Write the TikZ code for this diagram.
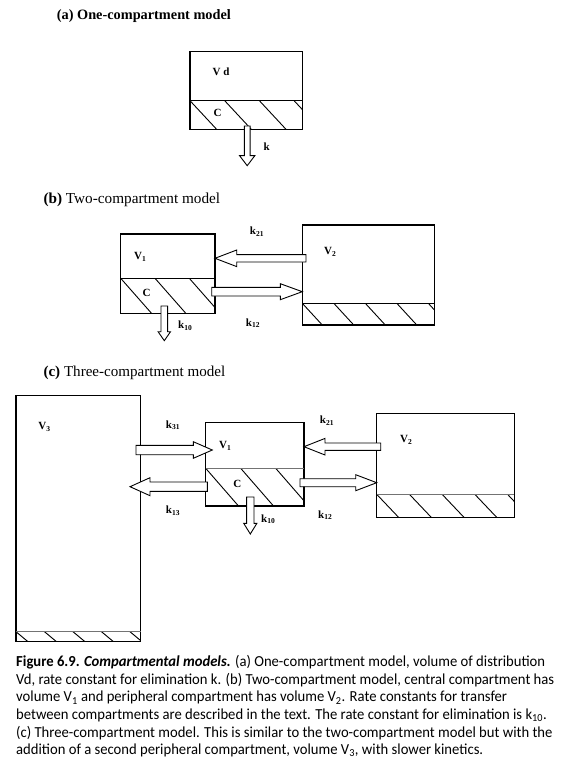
\documentclass[tikz,border=0pt]{standalone}
\usepackage{fontspec}
\usepackage{graphicx}
\setmainfont{Liberation Serif}
\newfontfamily\capfont{Carlito}
\usetikzlibrary{calc}
\tikzset{
  comp/.style={draw, line width=1.1pt, inner sep=0pt, outer sep=0pt, anchor=north west},
  hline/.style={line width=0.9pt},
  divline/.style={line width=1.1pt},
  divgray/.style={line width=1.3pt, draw=black!55},
  lab/.style={font=\fontsize{11}{13}\selectfont\bfseries, inner sep=0pt},
  ttl/.style={inner sep=0pt, anchor=west},
  capline/.style={inner sep=0pt, anchor=base west},
  barrowst/.style={draw, fill=white, line width=0.9pt, line join=miter},
}
\newcommand\kk[1]{k\raisebox{-0.3ex}{\fontsize{7.5}{8}\selectfont #1}}
\newcommand\VV[1]{V\raisebox{-0.3ex}{\fontsize{7.5}{8}\selectfont #1}}
\newcommand\barrow[5]{%
  \coordinate (neck) at ($(#2)!#5!(#1)$);
  \draw[barrowst] ($(#1)!#3!90:(#2)$) -- ($(neck)!#3!90:(#2)$) -- ($(neck)!#4!90:(#2)$) -- (#2)
    -- ($(neck)!#4!-90:(#2)$) -- ($(neck)!#3!-90:(#2)$) -- ($(#1)!#3!-90:(#2)$) -- cycle;}
\newcommand\hatch[7]{%
  \begin{scope}
    \clip (#1,#2) rectangle (#3,#4);
    \foreach \i in {0,...,8}
      \draw[hline] ({#5+\i*#6},#2) -- ++({#7*(#4-#2)},{#4-#2});
  \end{scope}}
\newlength\tmpw
\newcommand\fitto[3]{% target width, font switch, text
  \settowidth\tmpw{#2\fontsize{10}{12}\selectfont #3}%
  \pgfmathsetmacro\fitsize{10*#1/\tmpw}%
  {#2\fontsize{\fitsize}{\fitsize}\selectfont #3}}
\newcommand\capfnt{\capfont\fontsize{15.3}{17}\selectfont}
\newcommand\capfit[1]{%
  \settowidth\tmpw{\capfnt\textbf{Figure 6.9.} \textbf{\textit{Compartmental models.}} (a) One-compartment model, volume of distribution}%
  \pgfmathsetmacro\capsc{529/\tmpw}%
  \scalebox{\capsc}[1]{\capfnt #1}}
\begin{document}
\begin{tikzpicture}[x=1pt,y=-1pt]
\useasboundingbox (0,0) rectangle (567,778);
\fill[white] (0,0) rectangle (567,778);

% ---------- (a) ----------
\node[ttl] (ta) at (56.7,15.7) {\fitto{174}{\bfseries}{(a) One-compartment model}};
\hatch{190}{100.7}{302.7}{129.3}{190}{34.7}{0.93}
\node[comp, minimum width=112.7pt, minimum height=77.6pt] (Va) at (190,51.7) {};
\draw[divline] (190,100.7) -- (302.7,100.7);
\coordinate (ka1) at (247.2,126);
\coordinate (ka2) at (247.2,165.7);
\barrow{ka1}{ka2}{2.9pt}{7.6pt}{10pt}
\node[lab] (lVd) at (221,72) {V d};
\node[lab] (lCa) at (217.7,113) {C};
\node[lab] (lka) at (266.7,146.7) {k};

% ---------- (b) ----------
\node[ttl] (tb) at (43.3,200) {\fitto{176.7}{}{\textbf{(b)} Two-compartment model}};
\hatch{120.7}{278.3}{215}{313.3}{120.7}{34.3}{0.88}
\node[comp, minimum width=94.3pt, minimum height=79.3pt] (V1b) at (120.7,234) {};
\draw[divline] (120.7,278.3) -- (215,278.3);
\hatch{302.3}{303.3}{434.3}{325}{302.3}{31.5}{0.92}
\node[comp, minimum width=132pt, minimum height=100pt] (V2b) at (302.3,225) {};
\draw[divline] (302.3,303.3) -- (434.3,303.3);
\coordinate (b21a) at (306,258.3);
\coordinate (b21b) at (215,258.3);
\barrow{b21a}{b21b}{3.7pt}{8.3pt}{21.7pt}
\coordinate (b12a) at (211.7,291.7);
\coordinate (b12b) at (302.3,291.7);
\barrow{b12a}{b12b}{4.3pt}{8pt}{22pt}
\coordinate (b10a) at (164.3,306);
\coordinate (b10b) at (164.3,340.7);
\barrow{b10a}{b10b}{3.3pt}{6.2pt}{9pt}
\node[lab] (lb21) at (256.7,231.7) {\kk{21}};
\node[lab] (lbV2) at (330,251.7) {\VV{2}};
\node[lab] (lbV1) at (140,256.7) {\VV{1}};
\node[lab] (lbC) at (146.7,293.3) {C};
\node[lab] (lb10) at (185,325.5) {\kk{10}};
\node[lab] (lb12) at (252.7,323.3) {\kk{12}};

% ---------- (c) ----------
\node[ttl] (tc) at (43.3,373.3) {\fitto{181.7}{}{\textbf{(c)} Three-compartment model}};
\hatch{16}{631.7}{140.7}{641.7}{16}{28.5}{1.2}
\node[comp, minimum width=124.7pt, minimum height=246pt] (V3c) at (16,395.7) {};
\draw[divgray] (16,631.7) -- (140.7,631.7);
\hatch{205.7}{468.3}{304}{506}{205.7}{35}{0.87}
\node[comp, minimum width=98.3pt, minimum height=83.7pt] (V1c) at (205.7,422.3) {};
\draw[divgray] (205.7,468.3) -- (304,468.3);
\hatch{376.7}{494.3}{514.3}{517.3}{376.7}{32.7}{0.95}
\node[comp, minimum width=137.6pt, minimum height=104pt] (V2c) at (376.7,413.3) {};
\draw[divgray] (376.7,494.3) -- (514.3,494.3);
\coordinate (c21a) at (380.7,446.7);
\coordinate (c21b) at (304,446.7);
\barrow{c21a}{c21b}{3.7pt}{8.3pt}{21pt}
\coordinate (c12a) at (300,482.7);
\coordinate (c12b) at (376.7,482.7);
\barrow{c12a}{c12b}{4pt}{8pt}{21pt}
\coordinate (c31a) at (136,450);
\coordinate (c31b) at (212.3,450);
\barrow{c31a}{c31b}{4.7pt}{8.3pt}{19pt}
\coordinate (c13a) at (207.3,486.7);
\coordinate (c13b) at (130,486.7);
\barrow{c13a}{c13b}{4.7pt}{9pt}{20pt}
\coordinate (c10a) at (250.3,497);
\coordinate (c10b) at (250.3,534);
\barrow{c10a}{c10b}{3.7pt}{6.6pt}{10.7pt}
\node[lab] (lc21) at (326.7,420.7) {\kk{21}};
\node[lab] (lcV2) at (406,440) {\VV{2}};
\node[lab] (lc12) at (325,515) {\kk{12}};
\node[lab] (lc31) at (172.7,425) {\kk{31}};
\node[lab] (lc13) at (172.7,510.7) {\kk{13}};
\node[lab] (lcV3) at (44.3,426.7) {\VV{3}};
\node[lab] (lcV1) at (225,445.7) {\VV{1}};
\node[lab] (lcC) at (237.3,484.3) {C};
\node[lab] (lc10) at (268,519) {\kk{10}};

% ---------- caption ----------
\node[capline] (cap1) at (16,666.7) {\capfit{\textbf{Figure 6.9.} \textbf{\textit{Compartmental models.}} (a) One-compartment model, volume of distribution}};
\node[capline] (cap2) at (16,684.3) {\capfit{Vd, rate constant for elimination k. (b) Two-compartment model, central compartment has}};
\node[capline] (cap3) at (16,701.9) {\capfit{volume V\textsubscript{1} and peripheral compartment has volume V\textsubscript{2}. Rate constants for transfer}};
\node[capline] (cap4) at (16,719.5) {\capfit{between compartments are described in the text. The rate constant for elimination is k\textsubscript{10}.}};
\node[capline] (cap5) at (16,737.1) {\capfit{(c) Three-compartment model. This is similar to the two-compartment model but with the}};
\node[capline] (cap6) at (16,754.7) {\capfit{addition of a second peripheral compartment, volume V\textsubscript{3}, with slower kinetics.}};
\end{tikzpicture}
\end{document}
